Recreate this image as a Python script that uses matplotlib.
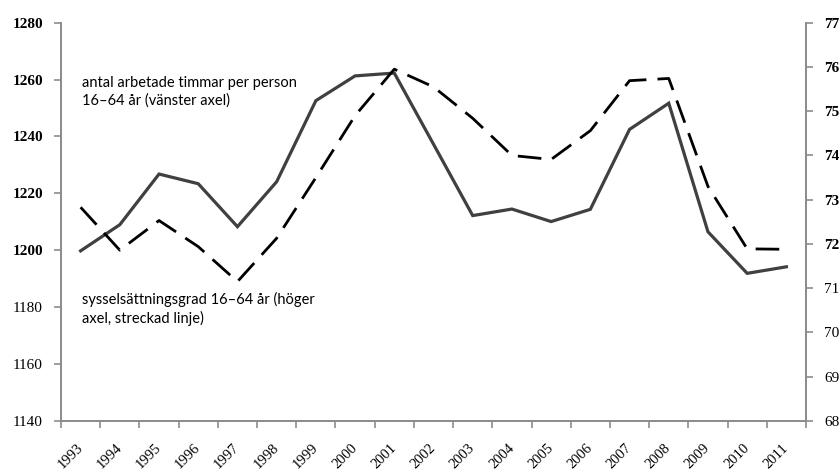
import matplotlib
matplotlib.use("Agg")
import matplotlib.pyplot as plt
import matplotlib.transforms as mtransforms
import numpy as np

years = [str(y) for y in range(1993, 2012)]
hours = [1199.8, 1209.0, 1226.8, 1223.4, 1208.3, 1224.1, 1252.6, 1261.3, 1262.3,
         1237.3, 1212.2, 1214.5, 1210.1, 1214.4, 1242.5, 1251.7, 1206.5, 1191.9, 1194.2]
employment = [72.83, 71.86, 72.53, 71.94, 71.15, 72.13, 73.5, 74.9, 75.95,
              75.55, 74.84, 74.0, 73.91, 74.56, 75.69, 75.74, 73.3, 71.89, 71.88]
left_ticks = [1140, 1160, 1180, 1200, 1220, 1240, 1260, 1280]
right_ticks = [68, 69, 70, 71, 72, 73, 74, 75, 76, 77]
label_hours = "antal arbetade timmar per person\n16\u201364 år (vänster axel)"
label_emp = "sysselsättningsgrad 16\u201364 år (höger\naxel, streckad linje)"

fig = plt.figure(figsize=(8.4, 4.7), dpi=100)
ax = fig.add_axes([61/840, 1 - 421/470, (806 - 61)/840, (421 - 22.7)/470])
ax2 = ax.twinx()

x = np.arange(len(years))
ax.plot(x, hours, color="#404040", lw=2.3, solid_joinstyle="miter", zorder=3)
ax2.plot(x, employment, color="black", lw=2.0, dashes=(8.5, 4), zorder=3)

spine_c = "#8c8c8c"
for a in (ax, ax2):
    a.set_xlim(-0.5, len(years) - 0.5)
    a.spines["top"].set_visible(False)
    for s in ("left", "right", "bottom"):
        a.spines[s].set_color(spine_c)
        a.spines[s].set_linewidth(1.3)

ax.set_ylim(1140, 1280)
ax2.set_ylim(68, 77)
ax.set_yticks(left_ticks)
ax2.set_yticks(right_ticks)
ax.set_yticklabels([str(t) for t in left_ticks], family="Liberation Serif", fontsize=11)
ax2.set_yticklabels([str(t) for t in right_ticks], family="Liberation Serif", fontsize=11)
for t, lab in zip(left_ticks, ax.get_yticklabels()):
    lab.set_fontweight("bold" if t >= 1200 else "normal")
for t, lab in zip(right_ticks, ax2.get_yticklabels()):
    lab.set_fontweight("bold" if t >= 72 else "normal")

ax.tick_params(axis="y", direction="out", length=5, width=1.2, color=spine_c, pad=8)
ax2.tick_params(axis="y", direction="out", length=5, width=1.2, color=spine_c, pad=8)

ax.set_xticks(np.arange(-0.5, len(years), 1.0))
ax.set_xticklabels([])
ax.tick_params(axis="x", which="major", direction="out", length=5, width=1.2, color=spine_c)

offset = mtransforms.ScaledTranslation(0, 0, fig.dpi_scale_trans)
trans = mtransforms.blended_transform_factory(ax.transData, ax.transAxes) + offset
for xi, yr in zip(x, years):
    ax.text(xi, -25/398.3, yr, transform=trans, rotation=45, rotation_mode="anchor",
            ha="right", va="center", family="Liberation Serif", fontsize=10.5,
            clip_on=False)

fig.text(82/840, 1 - 76/470, label_hours, ha="left", va="top",
         family="Lato", fontsize=10.5, linespacing=1.3)
fig.text(82/840, 1 - 292/470, label_emp, ha="left", va="top",
         family="Lato", fontsize=10.5, linespacing=1.3)

fig.savefig("out.png", dpi=100)
